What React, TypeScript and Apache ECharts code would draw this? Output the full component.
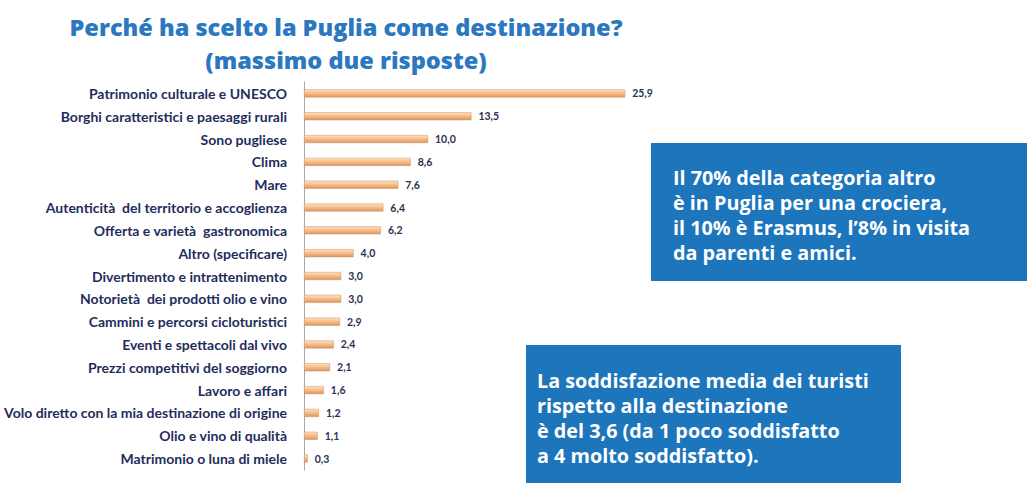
import React, { useEffect, useRef } from "react";
import * as echarts from "echarts";

const categories = [
  "Patrimonio culturale e UNESCO",
  "Borghi caratteristici e paesaggi rurali",
  "Sono pugliese",
  "Clima",
  "Mare",
  "Autenticità  del territorio e accoglienza",
  "Offerta e varietà  gastronomica",
  "Altro (specificare)",
  "Divertimento e intrattenimento",
  "Notorietà  dei prodotti olio e vino",
  "Cammini e percorsi cicloturistici",
  "Eventi e spettacoli dal vivo",
  "Prezzi competitivi del soggiorno",
  "Lavoro e affari",
  "Volo diretto con la mia destinazione di origine",
  "Olio e vino di qualità",
  "Matrimonio o luna di miele",
];

const values = [25.9, 13.5, 10.0, 8.6, 7.6, 6.4, 6.2, 4.0, 3.0, 3.0, 2.9, 2.4, 2.1, 1.6, 1.2, 1.1, 0.3];

const titleLine1 = "Perché ha scelto la Puglia come destinazione?";
const titleLine2 = "(massimo due risposte)";

const box1Lines = [
  "Il 70% della categoria altro",
  "è in Puglia per una crociera,",
  "il 10% è Erasmus, l’8% in visita",
  "da parenti e amici.",
];

const box2Lines = [
  "La soddisfazione media dei turisti",
  "rispetto alla destinazione",
  "è del 3,6 (da 1 poco soddisfatto",
  "a 4 molto soddisfatto).",
];

export default function App() {
  const ref = useRef<HTMLDivElement>(null);

  useEffect(() => {
    document.body.style.margin = "0";
    const chart = echarts.init(ref.current!, null, { renderer: "svg" });
    const boxText = (lines: string[], x: number, y: number) => ({
      type: "text",
      left: x,
      top: y,
      style: {
        text: lines.join("\n"),
        fill: "#ffffff",
        font: "bold 19.8px 'Open Sans'",
        lineHeight: 25,
      },
    });
    const titleText = (text: string, y: number) => ({
      type: "text",
      x: 346,
      y,
      style: {
        text,
        fill: "#2b78c0",
        font: "800 23.5px 'Open Sans'",
        textAlign: "center",
        textVerticalAlign: "middle",
      },
    });
    chart.setOption({
      animation: false,
      backgroundColor: "#ffffff",
      grid: { left: 304, top: 82, width: 372, height: 388, containLabel: false },
      xAxis: {
        type: "value",
        min: 0,
        max: 30,
        show: false,
      },
      yAxis: {
        type: "category",
        data: categories,
        inverse: true,
        axisLine: { show: true, lineStyle: { color: "#a8a8a8", width: 1 } },
        axisTick: { show: false },
        axisLabel: {
          color: "#1f2d5c",
          fontFamily: "Lato",
          fontWeight: "bold",
          fontSize: 14,
          margin: 17,
        },
      },
      series: [
        {
          type: "bar",
          data: values,
          barWidth: 8,
          itemStyle: {
            color: new echarts.graphic.LinearGradient(0, 0, 0, 1, [
              { offset: 0, color: "#fde3c8" },
              { offset: 0.45, color: "#f8bf8c" },
              { offset: 1, color: "#dc9760" },
            ]),
            borderColor: "#d0915c",
            borderWidth: 0.5,
          },
          label: {
            show: true,
            position: "right",
            distance: 7,
            color: "#2a3352",
            fontFamily: "Lato",
            fontWeight: "bold",
            fontSize: 10.5,
            formatter: (p: any) => Number(p.value).toFixed(1).replace(".", ","),
          },
        },
      ],
      graphic: [
        titleText(titleLine1, 27),
        titleText(titleLine2, 59.5),
        {
          type: "rect",
          shape: { x: 651, y: 143, width: 376, height: 138 },
          style: { fill: "#1d75bc" },
        },
        boxText(box1Lines, 673, 165),
        {
          type: "rect",
          shape: { x: 526, y: 345, width: 375, height: 138 },
          style: { fill: "#1d75bc" },
        },
        boxText(box2Lines, 537, 368),
      ],
    });
    return () => chart.dispose();
  }, []);

  return <div ref={ref} style={{ width: 1032, height: 495 }} />;
}
